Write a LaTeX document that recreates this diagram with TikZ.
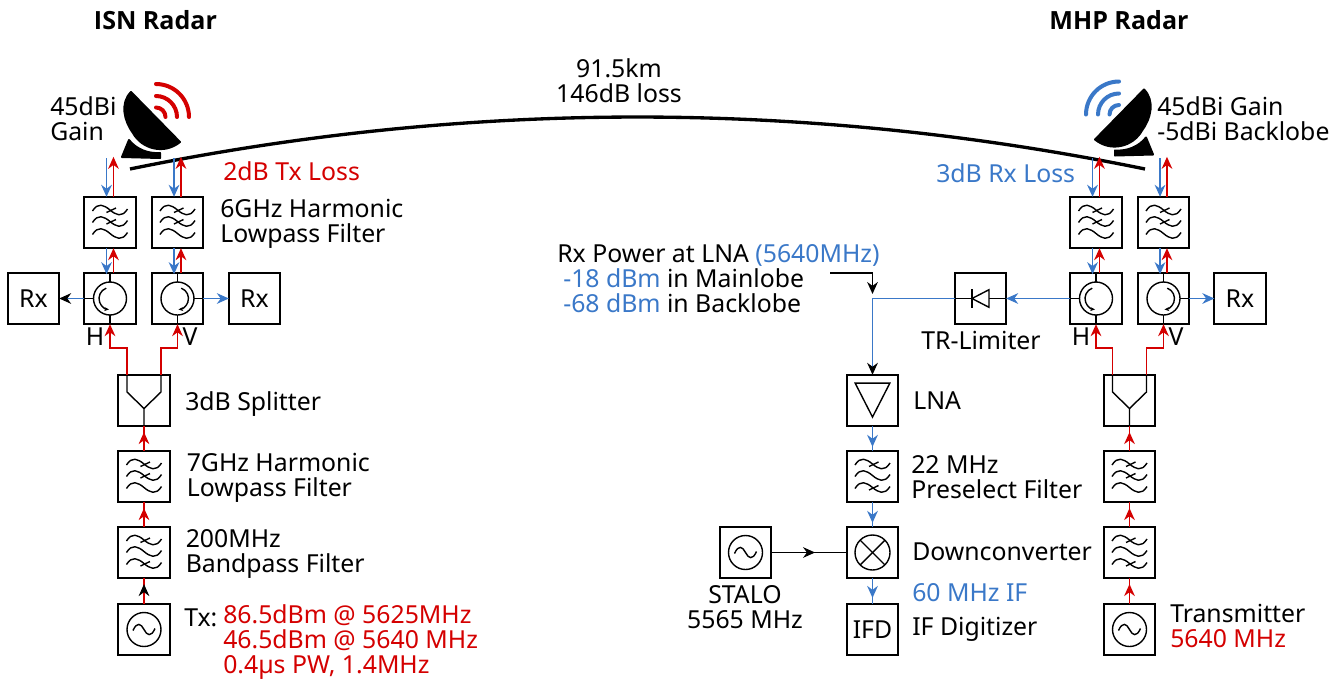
\documentclass[tikz,border=0pt]{standalone}
\usepackage{fontspec}
\setmainfont{Noto Sans}
\newfontfamily\titlefont{Open Sans}[BoldFont={* Bold}]
\usepackage{xcolor}
\usetikzlibrary{arrows.meta,decorations.markings}
\definecolor{txred}{HTML}{D40000}
\definecolor{rxblue}{HTML}{3A78C8}

\begin{document}
\begin{tikzpicture}[x=0.75pt,y=-0.75pt,
    >={Stealth[length=9pt,width=8pt]},
    font=\fontsize{18.6}{18.75}\selectfont]

    % --- STYLES ---
    \tikzset{
        blockbox/.style={draw=black, line width=1.3pt, minimum size=38.5pt, inner sep=0pt, outer sep=0pt},
        symline/.style={draw=black, line width=1.05pt},
        txline/.style={draw=txred, line width=1.3pt},
        rxline/.style={draw=rxblue, line width=1.3pt},
        midtip/.style 2 args={postaction={decorate, decoration={markings, mark=at position #1 with {\arrow[#2]{>}}}}},
        lbl/.style={anchor=west, align=left, inner sep=0pt},
        lblc/.style={align=center, inner sep=0pt}
    }

    \tikzset{
        pics/filtersym/.style={
            code={
                \foreach \y in {-12.5,-1,11}
                    \draw[symline] (-17.5,\y+1) .. controls (-12,\y-8) and (-6,\y-5) .. (0,\y) .. controls (6,\y+5) and (12,\y+8) .. (17.5,\y-1);
                \foreach \y in {#1}
                    \draw[symline] (-3.5,\y+2.5) -- (6,\y-2);
            }
        },
        pics/circsym/.style={
            code={
                \draw[symline] (0,0) circle[radius=16.5];
                \draw[symline] (0,-25.5) -- (0,-16.5);
                \draw[symline] (0,16.5) -- (0,25.5);
                \draw[symline] (-25.5,0) -- (-16.5,0);
                \draw[symline, -{Stealth[length=3.5pt,width=3pt]}] (-3.76,-10.34) arc[start angle=250, end angle=95, radius=11];
            }
        },
        pics/oscsym/.style={
            code={
                \draw[symline] (0,0) circle[radius=17];
                \draw[symline] (-11,1) .. controls (-7,-8) and (-3,-6) .. (0,0) .. controls (3,6) and (7,8) .. (11,-1);
            }
        },
        pics/splitsym/.style={
            code={
                \draw[symline] (-17,-25.5) -- (-17,-8.5) -- (0,8) -- (0,25.5);
                \draw[symline] (17,-25.5) -- (17,-8.5) -- (0,8);
            }
        },
        pics/dishsym/.style={
            code={
                \fill[black, draw=black, line width=1.5pt, line join=round] (-25,-25) -- (24,25) .. controls (8,38) and (-14,32) .. (-23,16) .. controls (-32,4) and (-36,-14) .. (-25,-25) -- cycle;
                \fill[black, draw=black, line width=1.5pt, line join=round] (-27,23) .. controls (-20,32) and (-8,37) .. (4,36) -- (4,41) -- (-34,40) -- cycle;
                \foreach \r in {9.5,21,33}
                    \draw[#1, line width=3pt, line cap=round] (0,-\r) arc[start angle=-90, end angle=0, radius=\r];
            }
        }
    }

    \useasboundingbox (0,0) rectangle (1343,679);

    % --- ISN RADAR ---
    \node[lblc, font=\fontsize{18.8}{18.75}\titlefont\bfseries] (isntitle) at (155.5,20) {ISN Radar};
    \pic at (156,117) {dishsym=txred};
    \node[lbl] (isngain) at (50,119) {45dBi\\Gain};
    \node[lbl, text=txred] (isnloss) at (223,171) {2dB Tx Loss};

    \node[blockbox] (isnfilth) at (110,222.5) {};
    \node[blockbox] (isnfiltv) at (177.5,222.5) {};
    \node[blockbox] (isncirch) at (110,298.5) {};
    \node[blockbox] (isncircv) at (177.5,298.5) {};
    \node[blockbox] (isnrxh) at (33.5,298.5) {Rx};
    \node[blockbox] (isnrxv) at (254.5,298.5) {Rx};
    \node[blockbox] (isnsplit) at (144,400.5) {};
    \node[blockbox] (isnlpf) at (144,476.5) {};
    \node[blockbox] (isnbpf) at (144,552.5) {};
    \node[blockbox] (isnosc) at (144,629.5) {};

    \pic at (isnfilth) {filtersym={-12.5,-1}};
    \pic at (isnfiltv) {filtersym={-12.5,-1}};
    \pic at (isncirch) {circsym};
    \pic[xscale=-1] at (isncircv) {circsym};
    \pic at (isnsplit) {splitsym};
    \pic at (isnlpf) {filtersym={-12.5,-1}};
    \pic at (isnbpf) {filtersym={-12.5,11}};
    \pic at (isnosc) {oscsym};

    \node[lbl] (isnlpflbl) at (220,223.5) {6GHz Harmonic\\Lowpass Filter};
    \node[lblc] (isnhlbl) at (95,337) {H};
    \node[lblc] (isnvlbl) at (190,337) {V};
    \node[lbl] (isnsplitlbl) at (185,404) {3dB Splitter};
    \node[lbl] (isnlpf2lbl) at (186.5,478) {7GHz Harmonic\\Lowpass Filter};
    \node[lbl] (isnbpflbl) at (185.5,554) {200MHz\\Bandpass Filter};
    \node[lbl] (isntxlbl) at (184,618) {Tx:};
    \node[lbl, text=txred] (isntxval) at (223,642) {86.5dBm @ 5625MHz\\46.5dBm @ 5640 MHz\\0.4µs PW, 1.4MHz};

    % --- MHP RADAR ---
    \node[lblc, font=\fontsize{18.8}{18.75}\titlefont\bfseries] (mhptitle) at (1119,20) {MHP Radar};
    \pic[xscale=-1] at (1119,114.5) {dishsym=rxblue};
    \node[lbl] (mhpgain) at (1157,119) {45dBi Gain\\-5dBi Backlobe};
    \node[lbl, text=rxblue] (mhploss) at (936,173) {3dB Rx Loss};

    \node[blockbox] (mhpfilth) at (1096,222.5) {};
    \node[blockbox] (mhpfiltv) at (1163.5,222.5) {};
    \node[blockbox] (mhpcirch) at (1096,298.5) {};
    \node[blockbox] (mhpcircv) at (1163.5,298.5) {};
    \node[blockbox] (mhprxv) at (1240,298.5) {Rx};
    \node[blockbox] (mhplim) at (980.5,298.5) {};
    \node[blockbox] (mhpsplit) at (1129.5,400.5) {};
    \node[blockbox] (mhplpf) at (1129.5,476.5) {};
    \node[blockbox] (mhpbpf) at (1129.5,552.5) {};
    \node[blockbox] (mhposc) at (1129.5,629.5) {};
    \node[blockbox] (lna) at (872.5,400.5) {};
    \node[blockbox] (presel) at (872.5,476.5) {};
    \node[blockbox] (mixer) at (872.5,552.5) {};
    \node[blockbox] (ifd) at (872.5,629.5) {IFD};
    \node[blockbox] (stalo) at (745.5,552.5) {};

    \pic at (mhpfilth) {filtersym={-12.5,-1}};
    \pic at (mhpfiltv) {filtersym={-12.5,-1}};
    \pic at (mhpcirch) {circsym};
    \pic[xscale=-1] at (mhpcircv) {circsym};
    \pic at (mhpsplit) {splitsym};
    \pic at (mhplpf) {filtersym={-12.5,-1}};
    \pic at (mhpbpf) {filtersym={-12.5,11}};
    \pic at (mhposc) {oscsym};
    \pic at (presel) {filtersym={-12.5,11}};
    \pic at (stalo) {oscsym};

    % Limiter
    \draw[symline] (mhplim.west) -- (mhplim.east);
    \draw[symline, fill=white] ([xshift=-6.4pt]mhplim.center) -- ([xshift=6.4pt,yshift=6.6pt]mhplim.center) -- ([xshift=6.4pt,yshift=-6.6pt]mhplim.center) -- cycle;
    \draw[symline] ([xshift=-6.4pt,yshift=7pt]mhplim.center) -- ([xshift=-6.4pt,yshift=-7pt]mhplim.center);

    % LNA und Mischer
    \draw[symline] ([xshift=-13pt,yshift=13pt]lna.center) -- ([xshift=13pt,yshift=13pt]lna.center) -- ([yshift=-12.4pt]lna.center) -- cycle;
    \draw[symline] (mixer.center) circle[radius=17.5];
    \draw[symline] ([xshift=-9.3pt,yshift=9.3pt]mixer.center) -- ([xshift=9.3pt,yshift=-9.3pt]mixer.center);
    \draw[symline] ([xshift=-9.3pt,yshift=-9.3pt]mixer.center) -- ([xshift=9.3pt,yshift=9.3pt]mixer.center);

    \node[lblc] (mhphlbl) at (1081,337) {H};
    \node[lblc] (mhpvlbl) at (1176,337) {V};
    \node[lblc] (mhplimlbl) at (981,340) {TR-Limiter};
    \node[lbl] (lnalbl) at (913,401) {LNA};
    \node[lbl] (presellbl) at (911,477) {22 MHz\\Preselect Filter};
    \node[lbl] (mixerlbl) at (912,552) {Downconverter};
    \node[lbl, text=rxblue] (iflbl) at (912,593) {60 MHz IF};
    \node[lbl] (ifdlbl) at (912,629) {IF Digitizer};
    \node[lblc] (stalolbl) at (745,607.5) {STALO\\5565 MHz};
    \node[lbl] (mhptxlbl) at (1170,626) {Transmitter\\\textcolor{txred}{5640 MHz}};
    \node[lbl] (rxpwr) at (557,278.5) {Rx Power at LNA \textcolor{rxblue}{(5640MHz)}\\\hspace*{4.5pt}\textcolor{rxblue}{-18 dBm} in Mainlobe\\\hspace*{4.5pt}\textcolor{rxblue}{-68 dBm} in Backlobe};

    % --- STRECKE ---
    \node[lblc] (pathlbl) at (619,81) {91.5km\\146dB loss};
    \coordinate (isnbeam) at (130,169);
    \coordinate (mhpbeam) at (1145,169);
    \draw[black, line width=2.5pt] (isnbeam) .. controls (468.3,99.7) and (806.7,99.7) .. (mhpbeam);

    % --- VERBINDUNGEN ---
    \foreach \r in {isn,mhp}
        \foreach \p in {h,v} {
            \coordinate (\r blue\p) at ([xshift=-2.6pt,yshift=29pt]\r filt\p.north);
            \coordinate (\r red\p) at ([xshift=2.6pt,yshift=30pt]\r filt\p.north);
            \draw[rxline, ->] (\r blue\p) -- ([xshift=-2.6pt]\r filt\p.north);
            \draw[txline, ->] ([xshift=2.6pt]\r filt\p.north) -- (\r red\p);
            \draw[rxline, ->] ([xshift=-2.6pt]\r filt\p.south) -- ([xshift=-2.6pt,yshift=-1pt]\r circ\p.north);
            \draw[txline, ->] ([xshift=2.6pt]\r circ\p.north) -- ([xshift=2.6pt]\r filt\p.south);
        }

    \foreach \r in {isn,mhp} {
        \draw[txline, ->] ([xshift=-12.75pt]\r split.north) -- ++(0,-27) -| (\r circh.south);
        \draw[txline, ->] ([xshift=12.75pt]\r split.north) -- ++(0,-27) -| (\r circv.south);
        \draw[txline, midtip={0.76}{txred}] (\r lpf.north) -- (\r split.south);
        \draw[txline, midtip={0.76}{txred}] (\r bpf.north) -- (\r lpf.south);
    }
    \draw[txline, midtip={0.77}{black}] (isnosc.north) -- (isnbpf.south);
    \draw[txline, midtip={0.77}{txred}] (mhposc.north) -- (mhpbpf.south);

    \draw[rxline, -{Stealth[length=9pt,width=8pt,black]}] (isncirch.west) -- (isnrxh.east);
    \draw[rxline, ->] (isncircv.east) -- (isnrxv.west);
    \draw[rxline, ->] (mhpcircv.east) -- (mhprxv.west);
    \draw[rxline, ->] (mhpcirch.west) -- (mhplim.east);

    \draw[rxline, -{Stealth[length=9pt,width=8pt,black]}] (mhplim.west) -| (lna.north);
    \draw[rxline, midtip={0.84}{rxblue}] (lna.south) -- (presel.north);
    \draw[rxline, midtip={0.84}{rxblue}] (presel.south) -- (mixer.north);
    \draw[rxline, midtip={0.77}{rxblue}] (mixer.south) -- (ifd.north);
    \draw[symline, midtip={0.58}{black}] (stalo.east) -- (mixer.west);

    \coordinate (rxpwrstart) at (830,273);
    \coordinate (rxpwrend) at (872.5,294);
    \draw[symline, ->] (rxpwrstart) -| (rxpwrend);

\end{tikzpicture}
\end{document}
